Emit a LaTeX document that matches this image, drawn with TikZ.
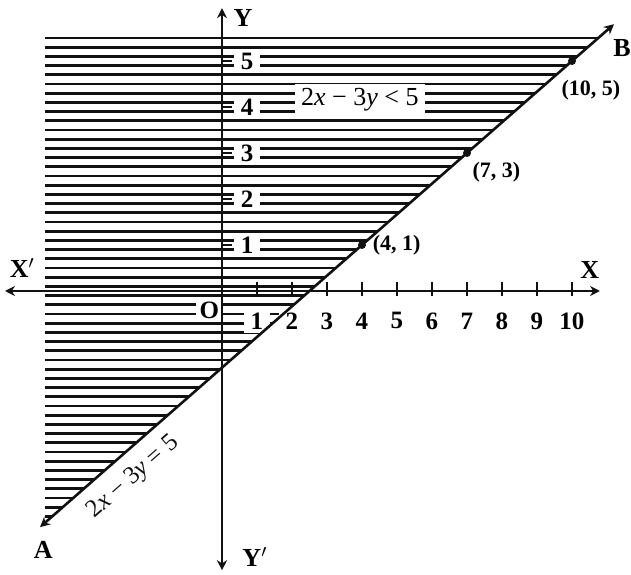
\documentclass[tikz,border=0pt]{standalone}
\usepackage{fontspec}
\setmainfont{Liberation Serif}
\usetikzlibrary{arrows.meta,positioning,calc}
\definecolor{grInk}{HTML}{111111}
\tikzset{
  axisline/.style={-{Stealth[length=5pt,width=5pt]}, line width=1.1pt, grInk},
  hatch/.style={line width=1.4pt, grInk},
  boundary/.style={{Stealth[length=5pt,width=5pt]}-{Stealth[length=5pt,width=5pt]}, line width=1.3pt, grInk},
  tickmark/.style={line width=1pt, grInk},
  ticklabel/.style={fill=white, font=\fontsize{12.5}{14}\selectfont\bfseries, inner xsep=3.5pt, inner ysep=1.8pt},
  axislabel/.style={font=\fontsize{13}{15}\selectfont\bfseries, inner sep=1pt},
  ptlabel/.style={font=\fontsize{11}{13}\selectfont\bfseries, inner sep=1pt},
  ptdot/.style={circle, fill=grInk, inner sep=0pt, minimum size=4pt},
  tag/.style={fill=white, font=\fontsize{13}{15}\selectfont, inner xsep=3pt, inner ysep=2.5pt}
}

\begin{document}
\begin{tikzpicture}[x=17.5pt, y=23pt]
  \useasboundingbox (-6.343,-6.174) rectangle (11.686,6.326);
  % hatching of the half plane 2x - 3y < 5
  \foreach \k in {-24,...,28} {
    \pgfmathsetmacro{\yy}{-0.1+0.2*\k}
    \pgfmathsetmacro{\xx}{(5+3*\yy)/2}
    \draw[hatch] (-5.05,\yy) -- (\xx,\yy);
  }
  % tick labels
  \foreach \n in {1,...,5}
    \node[ticklabel] (ylab\n) at (0.72,\n) {\n};
  \foreach \n in {1,...,10}
    \node[ticklabel] (xlab\n) at (\n,-0.65) {\n};
  \node[ticklabel, inner xsep=2pt] (orig) at (-0.36,-0.41) {O};
  \node[tag] (ineq) at (3.94,4.15) {2\textit{x} − 3\textit{y} < 5};
  % axes
  \coordinate (xl) at (-6.2,0);
  \coordinate (xr) at (10.8,0);
  \coordinate (yt) at (0,6.15);
  \coordinate (yb) at (0,-6.07);
  \draw[axisline] (0,0) -- (xl);
  \draw[axisline] (0,0) -- (xr);
  \draw[axisline] (0,0) -- (yt);
  \draw[axisline] (0,0) -- (yb);
  \foreach \n in {1,...,10}
    \draw[tickmark] (\n,0) ++(0,-2.5pt) -- ++(0,7pt);
  \foreach \n in {1,...,5}
    \draw[tickmark] (0,\n) -- ++(5pt,0);
  % boundary line 2x - 3y = 5
  \coordinate (A) at (-5.2,-5.133);
  \coordinate (B) at (11.2,5.8);
  \draw[boundary] (A) -- (B)
    node[pos=0.135, sloped, below=6pt, inner sep=0pt, font=\fontsize{12.5}{14}\selectfont] (eqn) {2\textit{x} − 3\textit{y} = 5};
  % points on the line
  \node[ptdot] (p1) at (4,1) {};
  \node[ptdot] (p2) at (7,3) {};
  \node[ptdot] (p3) at (10,5) {};
  \node[ptlabel, right=2pt of p1] (p1lab) {(4, 1)};
  \node[ptlabel, below right=2pt and 0pt of p2] (p2lab) {(7, 3)};
  \node[ptlabel, below right=7pt and -8pt of p3] (p3lab) {(10, 5)};
  % axis names
  \node[axislabel] (xpn) at (-5.71,0.5) {X$'$};
  \node[axislabel] (xn) at (10.51,0.46) {X};
  \node[axislabel] (yn) at (0.6,5.93) {Y};
  \node[axislabel] (ypn) at (0.94,-5.78) {Y$'$};
  \node[axislabel] (an) at (-5.11,-5.63) {A};
  \node[axislabel] (bn) at (11.43,5.28) {B};
\end{tikzpicture}
\end{document}
